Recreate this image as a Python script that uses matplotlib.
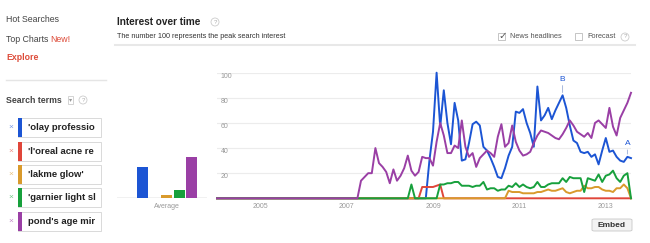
import matplotlib
matplotlib.use("Agg")
import matplotlib.pyplot as plt
from matplotlib.patches import Rectangle, FancyBboxPatch
from matplotlib.lines import Line2D
from matplotlib.transforms import Bbox, TransformedBbox

plt.rcParams['font.family'] = ['Liberation Sans', 'DejaVu Sans']

# data (monthly, 2004-01 .. 2013-08)
terms = ["'olay professio", "'l'oreal acne re", "'lakme glow'", "'garnier light sl", "pond's age mir"]
colors = ['#1c55d4', '#e0463a', '#d99a2c', '#17a03c', '#9a3fa5']
averages = [24.7, 0.5, 2.6, 6.5, 32.6]

olay = [0] * 59 + [30, 53, 100, 57, 86, 60, 43, 76, 62, 30,
                   31, 44, 59, 61, 58, 41, 38, 32, 25, 17,
                   16, 24, 34, 41, 69, 68, 71, 60, 52,
                   41, 89, 62, 66, 72, 63, 70, 76, 82, 72,
                   58, 46, 44, 37, 36, 37, 33, 35, 27, 38,
                   48, 37, 38, 33, 30, 29, 33, 32]
loreal = [0] * 57 + [9, 9, 9, 9, 10, 11] + [0] * 53
lakme = [0] * 81 + [6, 5, 5, 5, 4, 4, 4, 4, 5, 5,
                    6, 7, 6, 6, 7, 8, 5, 4, 5, 6,
                    6, 10, 8, 8, 9, 9, 7, 6, 6, 5,
                    8, 8, 11, 8, 0]
garnier = [0] * 54 + [11] + [0] * 7 + [11, 11, 12, 12, 13, 13, 10, 10, 10, 9,
                                       10, 10, 13, 7, 8, 8, 6, 7, 7, 10,
                                       9, 12, 9, 11, 9, 8, 9, 13, 9, 9,
                                       11, 12, 12, 12, 16, 13, 17, 16, 16, 16,
                                       5, 16, 15, 14, 19, 13, 18, 19, 22, 16,
                                       13, 18, 20, 0]
ponds = [0] * 40 + [14, 17, 20, 20, 40, 28, 25, 21, 12, 23,
                    14, 18, 24, 34, 22, 18, 21, 33, 32, 32,
                    26, 45, 60, 50, 36, 36, 42, 40, 62, 41,
                    33, 36, 25, 32, 35, 38, 36, 33, 49, 59,
                    41, 44, 58, 45, 38, 34, 35, 37, 44, 50,
                    54, 53, 52, 50, 48, 47, 51, 56, 62, 58,
                    53, 51, 49, 52, 48, 60, 62, 59, 56, 72,
                    57, 50, 64, 70, 76, 84]
series = [olay, loreal, lakme, garnier, ponds]
year_ticks = [12, 36, 60, 84, 108]
year_labels = ['2005', '2007', '2009', '2011', '2013']

W, H = 650, 243
fig = plt.figure(figsize=(6.5, 2.43), dpi=100)
fig.patch.set_facecolor('white')


def fx(px):
    return px / W


def fy(py):
    return 1 - py / H


def txt(x, y, s, **kw):
    kw.setdefault('va', 'center')
    return fig.text(fx(x), fy(y), s, **kw)


def rect(x0, y0, x1, y1, **kw):
    r = Rectangle((fx(x0), fy(y1)), (x1 - x0) / W, (y1 - y0) / H,
                  transform=fig.transFigure, **kw)
    fig.add_artist(r)
    return r


def hline(x0, x1, y, **kw):
    fig.add_artist(Line2D([fx(x0), fx(x1)], [fy(y), fy(y)], transform=fig.transFigure, **kw))


def qmark(x, y):
    txt(x, y, '?', ha='center', fontsize=4.3, color='#aaaaaa',
        bbox=dict(boxstyle='circle,pad=0.25', fc='white', ec='#cccccc', lw=0.6))


# left sidebar
txt(6, 20, 'Hot Searches', fontsize=6.3, color='#444444')
txt(6, 40, 'Top Charts', fontsize=6.3, color='#444444')
txt(50, 40, 'New!', fontsize=6.3, color='#dd4b39')
txt(6, 58, 'Explore', fontsize=6.3, color='#dd4b39', fontweight='bold')
hline(6, 106, 80.5, color='#e5e5e5', lw=1)
txt(6, 100, 'Search terms', fontsize=6.3, color='#444444', fontweight='bold')
txt(70.5, 100, '▾', ha='center', fontsize=4.5, color='#999999',
    bbox=dict(boxstyle='square,pad=0.2', fc='white', ec='#cccccc', lw=0.6))
qmark(83, 100)

box_y = [127.5, 151, 174.3, 197.7, 221]
for term, col, yc in zip(terms, colors, box_y):
    rect(17.5, yc - 9.5, 101.5, yc + 9.5, fc='white', ec='#d9d9d9', lw=0.7)
    rect(17.5, yc - 9.5, 21.5, yc + 9.5, fc=col, ec='none')
    txt(11, yc, '×', ha='center', fontsize=6, color=col, alpha=0.6)
    t = txt(28.5, yc, term, fontsize=6.8, color='#222222', fontweight='bold')
    t.set_clip_box(TransformedBbox(Bbox([[fx(22), fy(yc + 9)], [fx(99), fy(yc - 9)]]),
                                   fig.transFigure))
    t.set_clip_on(True)

# header
txt(117, 22, 'Interest over time', fontsize=7.2, color='#222222', fontweight='bold')
qmark(215, 22)
txt(117, 37, 'The number 100 represents the peak search interest', fontsize=5.2, color='#333333')
rect(498, 33.5, 505, 40.5, fc='white', ec='#bbbbbb', lw=0.6)
txt(502.5, 36, '✓', ha='center', fontsize=7.5, color='#555555', family=['DejaVu Sans'])
txt(510, 37, 'News headlines', fontsize=5.3, color='#555555')
rect(575, 33.5, 582, 40.5, fc='white', ec='#bbbbbb', lw=0.6)
txt(587, 37, 'Forecast', fontsize=5.3, color='#555555')
qmark(625, 37)
hline(115, 635, 45.5, color='#e8e8e8', lw=1.5)

# chart geometry (pixels)
y0_px, y100_px = 198.3, 72.7
bottom = fy(y0_px)
height = (y0_px - y100_px) / H

# average bars
axa = fig.add_axes([fx(117), bottom, 90 / W, height])
axa.bar(range(len(averages)), averages, width=0.9, color=colors, zorder=3)
axa.set_xlim(-2.1, 5.3)
axa.set_ylim(0, 100)
axa.axhline(0, color='#bbbbbb', lw=1, zorder=2)
axa.set_xticks([2])
axa.set_xticklabels(['Average'])
axa.set_yticks([])
axa.tick_params(axis='x', length=0, pad=3.2, labelsize=5, labelcolor='#999999')
for s in axa.spines.values():
    s.set_visible(False)
axa.patch.set_alpha(0)

# lines over time
ax = fig.add_axes([fx(217), bottom, 414 / W, height])
months = list(range(len(olay)))
for vals, col in zip(series, colors):
    ax.plot(months, vals, color=col, lw=1.4, solid_joinstyle='round', clip_on=False, zorder=3)
ax.set_xlim(0, 115)
ax.set_ylim(0, 100)
ax.set_xticks(year_ticks)
ax.set_xticklabels(year_labels)
ax.set_yticks([20, 40, 60, 80, 100])
ax.grid(axis='y', color='#ececec', lw=0.8, zorder=0)
ax.tick_params(axis='x', length=0, pad=3.2, labelsize=5, labelcolor='#999999')
ax.tick_params(axis='y', length=0, pad=-2.5, labelsize=5, labelcolor='#999999')
for lab in ax.get_yticklabels():
    lab.set_horizontalalignment('left')
    lab.set_verticalalignment('top')
for s in ax.spines.values():
    s.set_visible(False)
ax.patch.set_alpha(0)

ax.annotate('B', xy=(96, olay[96]), xytext=(0, 9), textcoords='offset points',
            ha='center', va='bottom', fontsize=6, color=colors[0],
            arrowprops=dict(arrowstyle='-', color='#9aaed6', lw=0.6, shrinkA=0, shrinkB=2))
ax.annotate('A', xy=(114, olay[114]), xytext=(0, 7), textcoords='offset points',
            ha='center', va='bottom', fontsize=6, color=colors[0],
            arrowprops=dict(arrowstyle='-', color='#9aaed6', lw=0.6, shrinkA=0, shrinkB=2))

# embed button
btn = FancyBboxPatch((fx(592), fy(231)), 40 / W, 12 / H, boxstyle='round,pad=0,rounding_size=0.004',
                     transform=fig.transFigure, fc='#f3f3f3', ec='#c8c8c8', lw=0.6)
fig.add_artist(btn)
txt(612, 225, 'Embed', ha='center', fontsize=6, color='#333333', fontweight='bold')

fig.savefig('out.png', dpi=100, facecolor='white')
